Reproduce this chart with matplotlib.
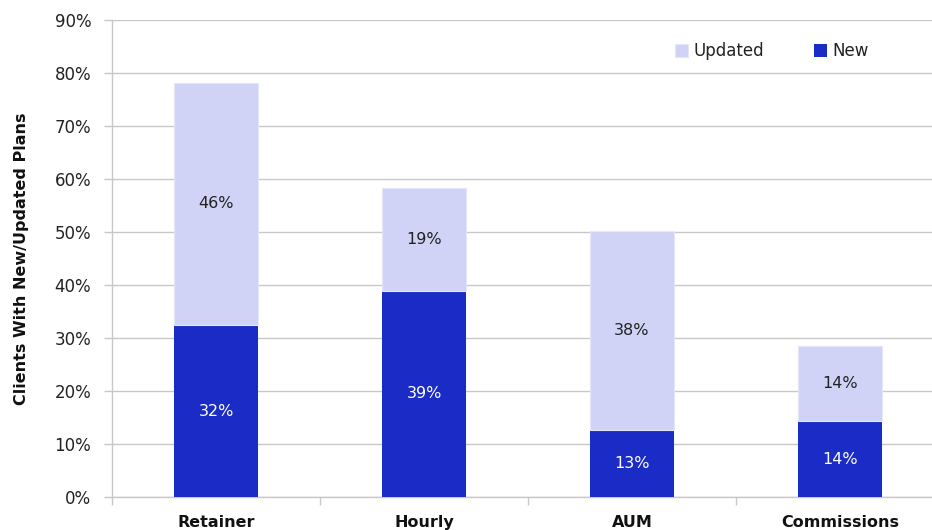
import numpy as np
import matplotlib
matplotlib.use('Agg')
import matplotlib.pyplot as plt

# ── Data ─────────────────────────────────────────────
categories = ["Retainer", "Hourly", "AUM", "Commissions"]
new_pct     = [32.4, 38.9, 12.6, 14.3]
updated_pct = [45.8, 19.4, 37.6, 14.1]

NEW_C = '#1A2BC6'
UPD_C = '#D0D3F5'
GRID  = '#C8C8C8'

plt.rcParams['font.family'] = ['DejaVu Sans']

fig = plt.figure(figsize=(9.32, 5.30), dpi=100)
ax = fig.add_axes([112/932, 33/530, 832/932, 477/530])

x = np.arange(len(categories))
new_arr = np.array(new_pct)
upd_arr = np.array(updated_pct)

b_new = ax.bar(x, new_arr, width=0.4, color=NEW_C, edgecolor='none',
               label='New', zorder=3)
b_upd = ax.bar(x, upd_arr, width=0.4, bottom=new_arr, color=UPD_C,
               edgecolor='#E4E6FA', linewidth=0.8, label='Updated', zorder=3)

for xi, n, u in zip(x, new_arr, upd_arr):
    ax.text(xi, n / 2, f"{n:.0f}%", ha='center', va='center',
            fontsize=11.5, color='white', zorder=4)
    ax.text(xi, n + u / 2, f"{u:.0f}%", ha='center', va='center',
            fontsize=11.5, color='#222222', zorder=4)

ax.set_xlim(-0.5, len(categories) - 0.5)
ax.set_ylim(0, 90)
ax.set_yticks(range(0, 91, 10))
ax.set_yticklabels([f"{v}%" for v in range(0, 91, 10)], fontsize=12,
                   color='#222222')
ax.yaxis.grid(True, color=GRID, linewidth=1, zorder=0)
ax.tick_params(axis='y', length=6, color=GRID, width=1, pad=9)

ax.set_xticks(x)
ax.set_xticklabels(categories, fontsize=11.5, fontweight='bold',
                   color='#111111')
ax.tick_params(axis='x', which='major', length=0, pad=13)
ax.set_xticks(np.arange(-0.5, len(categories)), minor=True)
ax.tick_params(axis='x', which='minor', length=6, color=GRID, width=1)

for s in ['top', 'right']:
    ax.spines[s].set_visible(False)
for s in ['left', 'bottom']:
    ax.spines[s].set_color(GRID)
    ax.spines[s].set_linewidth(1)

ax.set_ylabel("Clients With New/Updated Plans", fontsize=11.5,
              fontweight='bold', color='#111111', labelpad=18)

ax.legend(handles=[b_upd, b_new], labels=['Updated', 'New'], ncol=2,
          frameon=False, fontsize=12, loc='upper left',
          bbox_to_anchor=(548/832, 0.985), handlelength=0.8,
          handleheight=0.8, handletextpad=0.3, columnspacing=3.0,
          labelcolor='#222222')

fig.savefig('out.png', dpi=100)
